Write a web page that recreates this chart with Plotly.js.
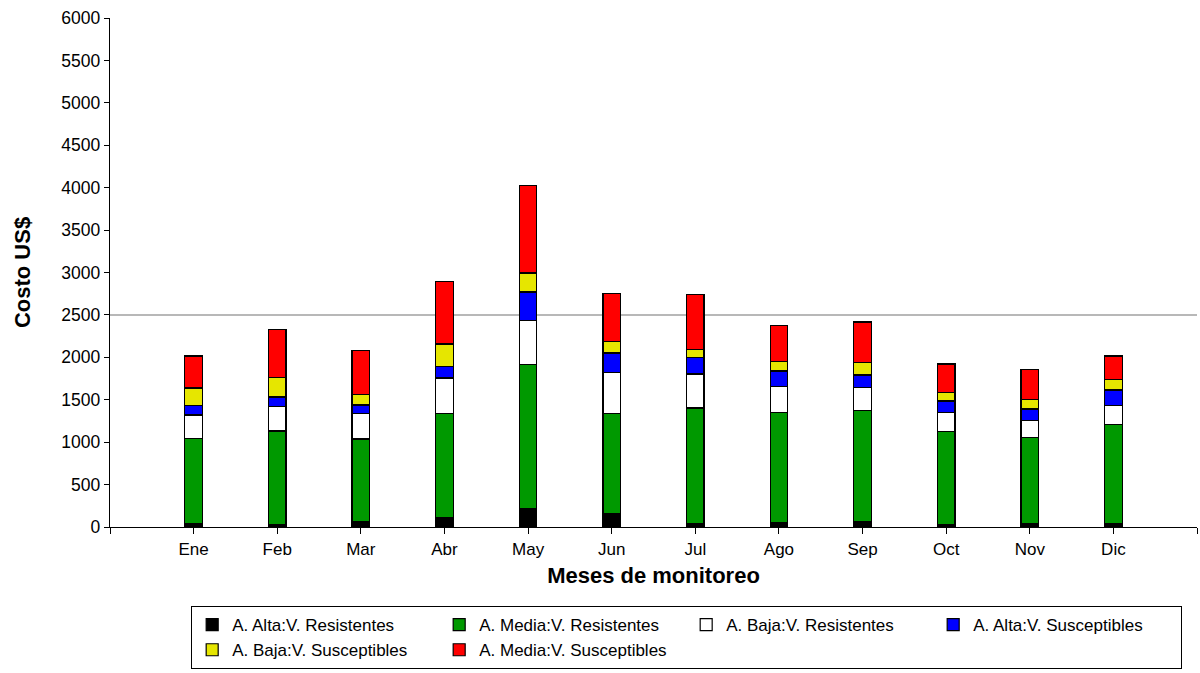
<!DOCTYPE html>
<html>
<head>
<meta charset="utf-8">
<script src="https://cdn.plot.ly/plotly-3.0.1.min.js"></script>
<style>html,body{margin:0;padding:0;background:#fff;}#chart{width:1200px;height:673px;}</style>
</head>
<body>
<div id="chart"></div>
<script>
const months = ["Ene","Feb","Mar","Abr","May","Jun","Jul","Ago","Sep","Oct","Nov","Dic"];
const altaResistentes   = [40, 27, 59, 106, 220, 157, 40, 55, 59, 25, 40, 40];
const mediaResistentes  = [1005, 1105, 979, 1234, 1698, 1183, 1363, 1297, 1312, 1103, 1013, 1171];
const bajaResistentes   = [275, 286, 298, 417, 515, 484, 401, 307, 271, 224, 205, 224];
const altaSusceptibles  = [114, 115, 102, 133, 338, 227, 197, 180, 150, 134, 133, 180];
const bajaSusceptibles  = [204, 227, 126, 268, 224, 138, 94, 110, 145, 97, 110, 122];
const mediaSusceptibles = [378, 570, 519, 732, 1034, 566, 644, 424, 480, 339, 354, 279];
const seriesNames = ["A. Alta:V. Resistentes","A. Media:V. Resistentes","A. Baja:V. Resistentes","A. Alta:V. Susceptibles","A. Baja:V. Susceptibles","A. Media:V. Susceptibles"];
const seriesColors = ["#000000","#009900","#ffffff","#0000ff","#e6e600","#ff0000"];
const referenceLevel = 2500;

const xs = months.map((m, i) => i);
const allSeries = [altaResistentes, mediaResistentes, bajaResistentes, altaSusceptibles, bajaSusceptibles, mediaSusceptibles];
const traces = allSeries.map((vals, k) => ({
  type: 'bar',
  x: xs,
  y: vals,
  name: seriesNames[k],
  width: 0.21,
  marker: {color: seriesColors[k], line: {color: '#000000', width: 1.2}},
  hoverinfo: 'y+name'
}));

const tickVals = [-1].concat(xs, [months.length]);
const tickText = [''].concat(months, ['']);

const layout = {
  width: 1200, height: 673,
  margin: {l: 110, r: 3, t: 18, b: 146},
  barmode: 'stack',
  paper_bgcolor: '#ffffff',
  plot_bgcolor: '#ffffff',
  font: {family: 'Arial, "Liberation Sans", sans-serif', color: '#000000', size: 16},
  showlegend: true,
  xaxis: {
    range: [-1, months.length],
    tickmode: 'array', tickvals: tickVals, ticktext: tickText,
    ticks: 'outside', ticklen: 6, tickcolor: '#000', tickwidth: 1,
    showline: true, linecolor: '#000', linewidth: 1.2,
    showgrid: false, zeroline: false,
    tickfont: {size: 17},
    title: {text: 'Meses de monitoreo', font: {size: 22, family: 'Arial, "Liberation Sans", sans-serif', weight: 'bold'}, standoff: 10}
  },
  yaxis: {
    range: [0, 6000], dtick: 500, tick0: 0,
    ticks: 'outside', ticklen: 5, tickcolor: '#000', tickwidth: 1,
    showline: true, linecolor: '#000', linewidth: 1.2,
    showgrid: false, zeroline: false,
    tickfont: {size: 17.5},
    title: {text: 'Costo US$', font: {size: 22, family: 'Arial, "Liberation Sans", sans-serif', weight: 'bold'}, standoff: 24}
  },
  shapes: [{
    type: 'line', xref: 'paper', yref: 'y', x0: 0, x1: 1, y0: referenceLevel, y1: referenceLevel,
    line: {color: '#a0a0a0', width: 1.5}, layer: 'below'
  }],
  legend: {
    orientation: 'h', traceorder: 'normal',
    x: 0.0745, xanchor: 'left', y: -0.155, yanchor: 'top',
    entrywidth: 202, entrywidthmode: 'pixels',
    bordercolor: '#000', borderwidth: 1.2, bgcolor: '#fff',
    font: {size: 17, family: 'Arial, "Liberation Sans", sans-serif'}
  }
};

Plotly.newPlot('chart', traces, layout, {displayModeBar: false, staticPlot: true});
</script>
</body>
</html>
